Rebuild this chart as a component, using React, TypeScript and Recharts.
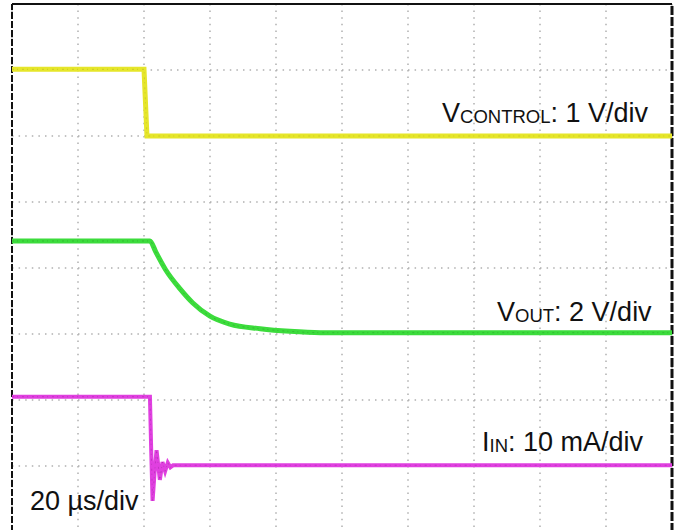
import React from "react";
import { LineChart, Line, XAxis, YAxis, CartesianGrid, ReferenceLine } from "recharts";

// Oscilloscope screen: 10 horizontal divisions, 8 vertical divisions
const X_TICKS = [0, 1, 2, 3, 4, 5, 6, 7, 8, 9, 10];
const Y_TICKS = [0, 1, 2, 3, 4, 5, 6, 7, 8];

// t and v in divisions
const vControl = [
  { t: 0, v: 7.01 },
  { t: 2.0, v: 7.01 },
  { t: 2.045, v: 6.0 },
  { t: 10, v: 6.0 },
];

const vOut = [
  { t: 0, v: 4.41 },
  { t: 2.09, v: 4.41 },
  { t: 2.18, v: 4.24 },
  { t: 2.33, v: 3.97 },
  { t: 2.55, v: 3.68 },
  { t: 2.74, v: 3.47 },
  { t: 3.0, v: 3.27 },
  { t: 3.3, v: 3.15 },
  { t: 3.76, v: 3.08 },
  { t: 4.21, v: 3.04 },
  { t: 4.67, v: 3.02 },
  { t: 10, v: 3.02 },
];

const iIn = [
  { t: 0, v: 2.05 },
  { t: 2.09, v: 2.05 },
  { t: 2.11, v: 1.2 },
  { t: 2.13, v: 0.47 },
  { t: 2.16, v: 0.9 },
  { t: 2.19, v: 1.24 },
  { t: 2.24, v: 0.79 },
  { t: 2.28, v: 1.06 },
  { t: 2.32, v: 0.92 },
  { t: 2.36, v: 1.05 },
  { t: 2.4, v: 0.98 },
  { t: 2.44, v: 1.01 },
  { t: 10, v: 1.01 },
];

const FONT = "'Liberation Sans', Arial, sans-serif";

export default function App() {
  return (
    <div
      style={{
        position: "absolute",
        left: 0,
        top: 0,
        width: 680,
        height: 530,
        overflow: "hidden",
        background: "#fff",
      }}
    >
      <LineChart
        width={680}
        height={540}
        margin={{ top: 4, right: 8, bottom: 8, left: 12 }}
      >
        <XAxis
          dataKey="t"
          type="number"
          domain={[0, 10]}
          ticks={X_TICKS}
          hide
          allowDuplicatedCategory={false}
        />
        <YAxis type="number" domain={[0, 8]} ticks={Y_TICKS} hide />
        <CartesianGrid
          stroke="#b0b0b0"
          strokeWidth={1.5}
          strokeDasharray="1.5 5.1"
        />
        <ReferenceLine x={0} stroke="#111" strokeWidth={2} strokeDasharray="7 2" />
        <ReferenceLine x={10} stroke="#111" strokeWidth={3} strokeDasharray="9 2" />
        <ReferenceLine y={8} stroke="#111" strokeWidth={2} />
        <Line
          data={vControl}
          dataKey="v"
          type="linear"
          stroke="#e6e62a"
          strokeWidth={5}
          dot={false}
          isAnimationActive={false}
        />
        <Line
          data={vControl}
          dataKey="v"
          type="linear"
          stroke="#9a9a20"
          strokeOpacity={0.35}
          strokeWidth={1}
          strokeDasharray="2 3 1 4"
          dot={false}
          isAnimationActive={false}
        />
        <Line
          data={vOut}
          dataKey="v"
          type="monotone"
          stroke="#3cdc3c"
          strokeWidth={5}
          dot={false}
          isAnimationActive={false}
        />
        <Line
          data={vOut}
          dataKey="v"
          type="monotone"
          stroke="#1f7a1f"
          strokeOpacity={0.35}
          strokeWidth={1}
          strokeDasharray="2 3 1 4"
          dot={false}
          isAnimationActive={false}
        />
        <Line
          data={iIn}
          dataKey="v"
          type="linear"
          stroke="#e040e0"
          strokeWidth={4}
          dot={false}
          isAnimationActive={false}
        />
        <Line
          data={iIn}
          dataKey="v"
          type="linear"
          stroke="#8a1f8a"
          strokeOpacity={0.35}
          strokeWidth={1}
          strokeDasharray="2 3 1 4"
          dot={false}
          isAnimationActive={false}
        />
      </LineChart>
      <svg
        width={680}
        height={530}
        style={{ position: "absolute", left: 0, top: 0, pointerEvents: "none" }}
      >
        <g fontFamily={FONT} fill="#111">
          <text x={442} y={122} fontSize={27}>
            V<tspan fontSize={18.5} dy={1}>CONTROL</tspan>
            <tspan dy={-1}>: 1 V/div</tspan>
          </text>
          <text x={497} y={321} fontSize={27}>
            V<tspan fontSize={18.5} dy={1}>OUT</tspan>
            <tspan dy={-1}>: 2 V/div</tspan>
          </text>
          <text x={482} y={451} fontSize={27}>
            I<tspan fontSize={18.5} dy={1}>IN</tspan>
            <tspan dy={-1}>: 10 mA/div</tspan>
          </text>
          <text x={30} y={510} fontSize={27}>
            20 µs/div
          </text>
        </g>
      </svg>
    </div>
  );
}
